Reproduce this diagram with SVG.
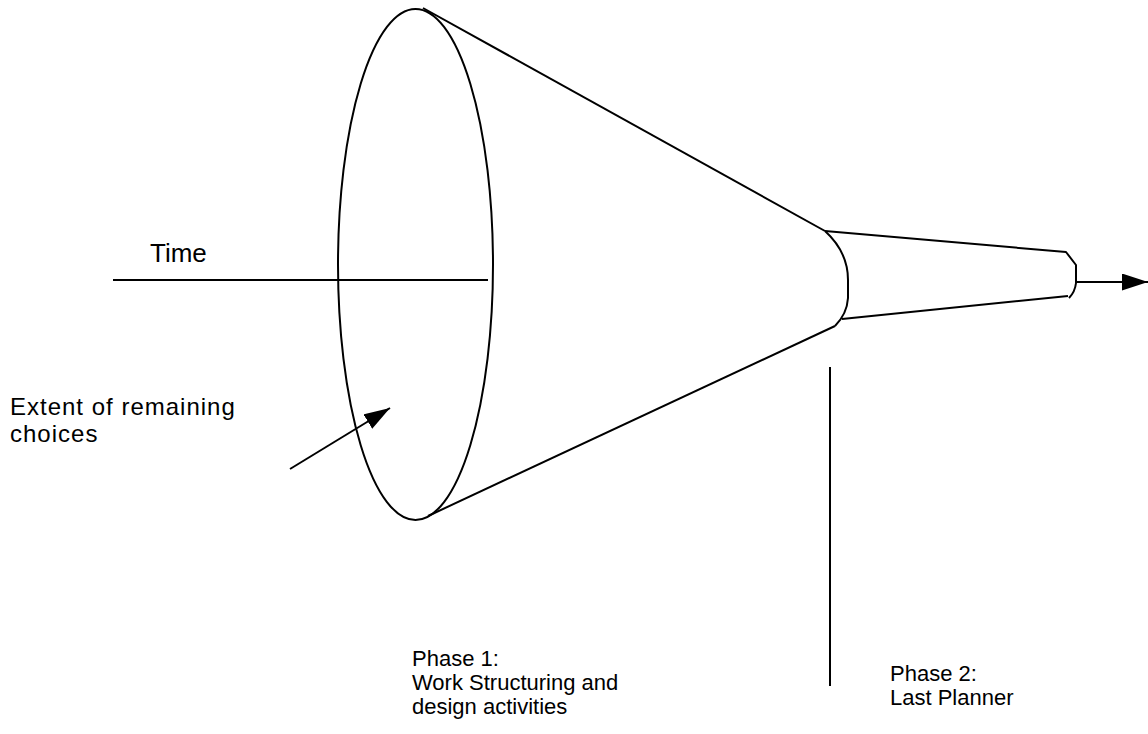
<svg xmlns="http://www.w3.org/2000/svg" width="1148" height="734" viewBox="0 0 1148 734">
<style>
.ln{fill:none;stroke:#000;stroke-width:2;stroke-linecap:butt;stroke-linejoin:round}
.tx{font-family:"Liberation Sans",Arial,sans-serif;font-size:22px;fill:#000}
.big{font-size:24px;letter-spacing:1px}
</style>
<defs>
<marker id="ah" viewBox="0 0 26 17" refX="26" refY="8.5" markerWidth="26" markerHeight="17" markerUnits="userSpaceOnUse" orient="auto">
<path d="M0,0 L26,8.5 L0,17 z" fill="#000"/>
</marker>
</defs>
<g id="funnel">
<ellipse class="ln" cx="415.5" cy="264.5" rx="77.5" ry="255.5"/>
<path class="ln" d="M423,8 L825,231"/>
<path class="ln" d="M428,516 L835,326"/>
<path class="ln" d="M825,231 Q848,252 848,280 L848,298 Q847,314 835,326"/>
<path class="ln" d="M825,231 L1066,252 L1076,265 L1076,283 Q1075,292 1069,298"/>
<path class="ln" d="M842,319 L1068,296"/>
</g>
<g id="connectors">
<line class="ln" x1="113" y1="280" x2="488" y2="280"/>
<line class="ln" x1="1076" y1="282" x2="1148" y2="282" marker-end="url(#ah)"/>
<line class="ln" x1="290" y1="469" x2="390" y2="408" marker-end="url(#ah)"/>
<line class="ln" x1="830" y1="367" x2="830" y2="686"/>
</g>
<g id="label-time"><text class="tx" style="font-size:26px" x="150" y="262">Time</text></g>
<g id="label-extent"><text class="tx big" x="10" y="415">Extent of remaining</text><text class="tx big" x="10" y="442">choices</text></g>
<g id="label-phase1"><text class="tx" x="412" y="666">Phase 1:</text><text class="tx" x="412" y="690">Work Structuring and</text><text class="tx" x="412" y="714">design activities</text></g>
<g id="label-phase2"><text class="tx" x="890" y="681">Phase 2:</text><text class="tx" x="890" y="705">Last Planner</text></g>
</svg>
